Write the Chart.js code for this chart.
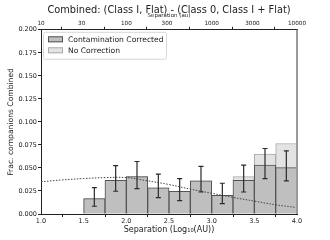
<!DOCTYPE html>
<html>
<head>
<meta charset="utf-8">
<script src="https://cdn.jsdelivr.net/npm/chart.js@4"></script>
<style>
  html, body { margin: 0; padding: 0; background: #fff; }
  #wrap { width: 330px; height: 240px; }
</style>
</head>
<body>
<div id="wrap"><canvas id="chart"></canvas></div>
<script>
// bin centres in log10(AU), bin width 0.25
const binCenters = [1.125, 1.375, 1.625, 1.875, 2.125, 2.375, 2.625, 2.875, 3.125, 3.375, 3.625, 3.875];
const corrected = [0, 0, 0.0167, 0.0366, 0.0406, 0.0283, 0.0247, 0.0359, 0.0203, 0.0366, 0.053, 0.0504];
const noCorrection = [0, 0, 0.0167, 0.0366, 0.0406, 0.0283, 0.0247, 0.0359, 0.0203, 0.0406, 0.065, 0.0765];
const errLow = [null, null, 0.0084, 0.0247, 0.0276, 0.0178, 0.0145, 0.0239, 0.0113, 0.0239, 0.0385, 0.0359];
const errHigh = [null, null, 0.0287, 0.0526, 0.057, 0.0432, 0.0385, 0.0518, 0.0334, 0.053, 0.0711, 0.0685];

// dotted log-normal curve
const curveX = [1.0, 1.25, 1.5, 1.75, 2.0, 2.25, 2.5, 2.75, 3.0, 3.25, 3.5, 3.75, 4.0];
const curveY = [0.035, 0.037, 0.0385, 0.0395, 0.0395, 0.036, 0.032, 0.027, 0.0225, 0.018, 0.014, 0.010, 0.007];

const xTicks = [1.0, 1.5, 2.0, 2.5, 3.0, 3.5, 4.0];
const auTicks = [10, 30, 100, 300, 1000, 3000, 10000];

const FONT = 'DejaVu Sans';
const INK = '#222';

// error bars + right spine + legend
const extras = {
    id: 'extras',
    afterDatasetsDraw(chart) {
        const ctx = chart.ctx;
        const xs = chart.scales.x, ys = chart.scales.y;
        const area = chart.chartArea;
        ctx.save();
        ctx.strokeStyle = '#2a2a2a';
        ctx.lineWidth = 1.2;
        binCenters.forEach((c, i) => {
            if (errLow[i] == null) return;
            const px = xs.getPixelForValue(c);
            const y1 = ys.getPixelForValue(errLow[i]);
            const y2 = ys.getPixelForValue(errHigh[i]);
            ctx.beginPath();
            ctx.moveTo(px, y1); ctx.lineTo(px, y2);
            ctx.moveTo(px - 2.5, y1); ctx.lineTo(px + 2.5, y1);
            ctx.moveTo(px - 2.5, y2); ctx.lineTo(px + 2.5, y2);
            ctx.stroke();
        });

        // right spine (gray)
        ctx.strokeStyle = '#9a9a9a';
        ctx.lineWidth = 2;
        ctx.beginPath();
        ctx.moveTo(area.right, area.top);
        ctx.lineTo(area.right, area.bottom);
        ctx.stroke();

        // legend box
        const items = [chart.data.datasets[0], chart.data.datasets[1]];
        const lx = area.left + 2, ly = area.top + 2;
        ctx.fillStyle = 'rgba(255,255,255,0.8)';
        ctx.strokeStyle = '#d8d8d8';
        ctx.lineWidth = 1;
        ctx.beginPath();
        ctx.roundRect(lx + 0.5, ly + 0.5, 123, 27, 2);
        ctx.fill();
        ctx.stroke();
        ctx.font = '7.6px "' + FONT + '"';
        ctx.textBaseline = 'middle';
        items.forEach((d, i) => {
            const cy = ly + 7.5 + i * 11;
            ctx.fillStyle = d.backgroundColor;
            ctx.fillRect(lx + 5, cy - 3, 15, 6);
            ctx.strokeStyle = d.borderColor;
            ctx.strokeRect(lx + 5.5, cy - 2.5, 14, 5);
            ctx.fillStyle = INK;
            ctx.fillText(d.label, lx + 25, cy + 0.5);
        });
        ctx.restore();
    }
};

const ctx = document.getElementById('chart');
new Chart(ctx, {
    type: 'bar',
    data: {
        datasets: [
            {
                label: 'Contamination Corrected',
                data: binCenters.map((c, i) => ({ x: c, y: corrected[i] })),
                backgroundColor: '#bfbfbf',
                borderColor: '#555',
                borderWidth: 1,
                order: 1
            },
            {
                label: 'No Correction',
                data: binCenters.map((c, i) => ({ x: c, y: noCorrection[i] })),
                backgroundColor: '#e3e3e3',
                borderColor: '#ababab',
                borderWidth: 1,
                order: 2
            },
            {
                type: 'line',
                label: 'fit',
                data: curveX.map((c, i) => ({ x: c, y: curveY[i] })),
                borderColor: '#444',
                borderWidth: 1,
                borderDash: [1.5, 1.5],
                pointRadius: 0,
                tension: 0.4,
                fill: false,
                order: 0
            }
        ]
    },
    options: {
        responsive: true,
        maintainAspectRatio: false,
        animation: false,
        devicePixelRatio: 1,
        layout: { padding: { left: 0, right: 33, top: 0, bottom: 0 } },
        datasets: {
            bar: { barPercentage: 1, categoryPercentage: 1, grouped: false }
        },
        scales: {
            x: {
                type: 'linear',
                position: 'bottom',
                min: 1.0,
                max: 4.0,
                offset: false,
                afterBuildTicks: s => { s.ticks = xTicks.map(v => ({ value: v })); },
                afterFit: s => { s.height = 26; },
                ticks: {
                    color: INK, padding: 0, maxRotation: 0, autoSkip: false,
                    font: { family: FONT, size: 6.5 },
                    callback: v => Number(v).toFixed(1)
                },
                grid: { drawOnChartArea: false, drawTicks: true, tickLength: 3, color: INK },
                border: { display: true, color: INK, width: 1 },
                title: {
                    display: true, text: 'Separation (Log₁₀(AU))', color: INK,
                    font: { family: FONT, size: 8 }, padding: { top: 0, bottom: 5 }
                }
            },
            x2: {
                type: 'logarithmic',
                position: 'top',
                min: 10,
                max: 10000,
                afterBuildTicks: s => { s.ticks = auTicks.map(v => ({ value: v })); },
                afterFit: s => { s.height = 14; },
                ticks: {
                    color: INK, padding: 0, maxRotation: 0, autoSkip: false,
                    font: { family: FONT, size: 5.7 },
                    callback: v => String(v)
                },
                grid: { drawOnChartArea: false, drawTicks: true, tickLength: 3, color: INK },
                border: { display: true, color: INK, width: 1 },
                title: {
                    display: true, text: 'Separation (au)', color: INK,
                    font: { family: FONT, size: 5.5 }, padding: { top: -4, bottom: 0 }
                }
            },
            y: {
                min: 0,
                max: 0.2,
                afterBuildTicks: s => {
                    const t = [];
                    for (let k = 0; k <= 8; k++) t.push({ value: k * 0.025 });
                    s.ticks = t;
                },
                afterFit: s => { s.width = 41; },
                ticks: {
                    color: INK, padding: 1,
                    font: { family: FONT, size: 6.5 },
                    callback: v => Number(v).toFixed(3)
                },
                grid: { drawOnChartArea: false, drawTicks: true, tickLength: 3, color: INK },
                border: { display: true, color: INK, width: 1 },
                title: {
                    display: true, text: 'Frac. companions Combined', color: INK,
                    font: { family: FONT, size: 7.6 }, padding: { top: 6, bottom: 0 }
                }
            }
        },
        plugins: {
            legend: { display: false },
            tooltip: { enabled: false },
            title: {
                display: true,
                fullSize: false,
                text: 'Combined: (Class I, Flat) - (Class 0, Class I + Flat)',
                color: INK,
                font: { family: FONT, size: 9.8, weight: 'normal', lineHeight: 1 },
                padding: { top: 6, bottom: 0 }
            }
        }
    },
    plugins: [extras]
});
</script>
</body>
</html>
